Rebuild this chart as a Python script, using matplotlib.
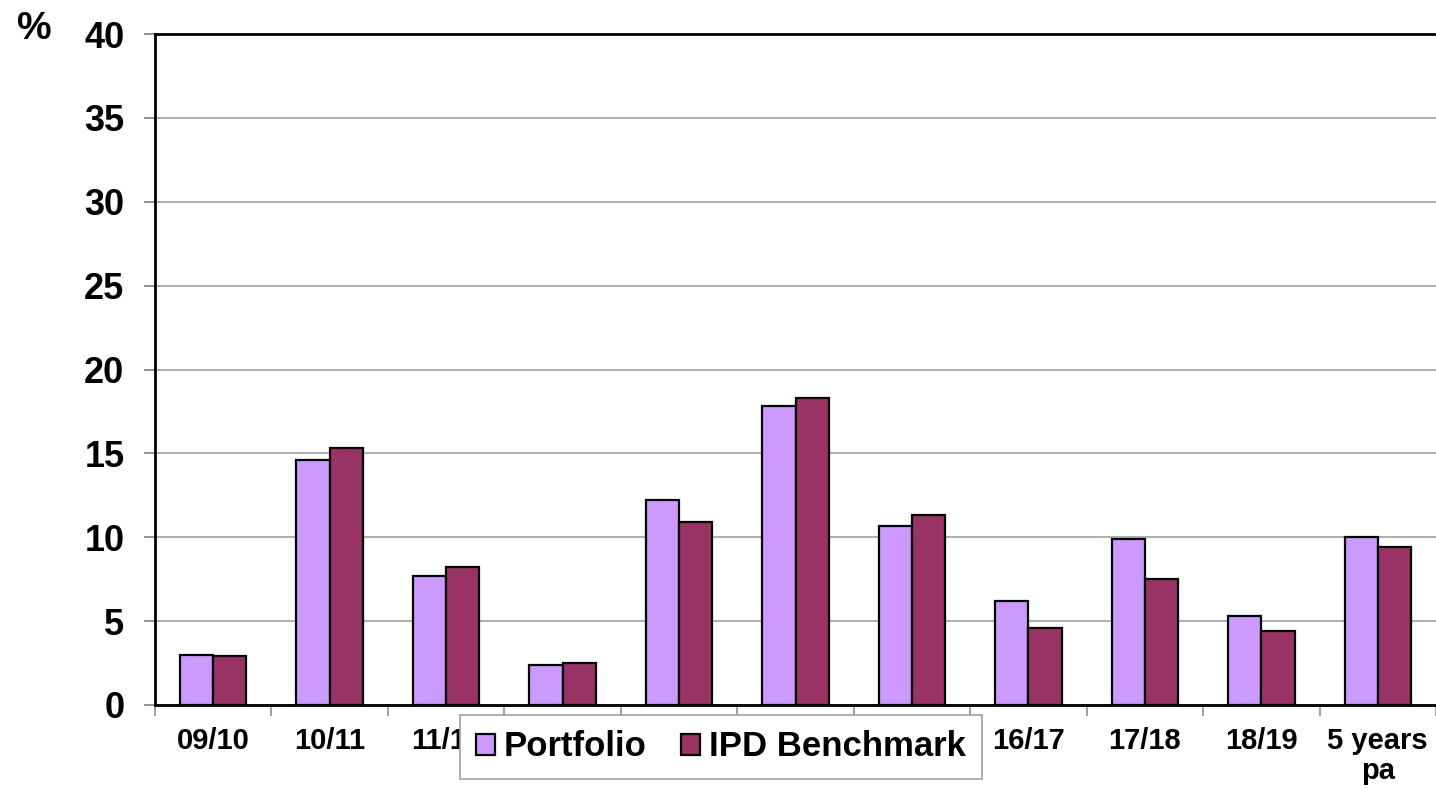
import numpy as np
import matplotlib
matplotlib.use("Agg")
import matplotlib.pyplot as plt

plt.rcParams['font.family'] = ['Liberation Sans', 'DejaVu Sans']
plt.rcParams['font.weight'] = 'bold'

# values
years = ['09/10', '10/11', '11/12', '12/13', '13/14', '14/15',
         '15/16', '16/17', '17/18', '18/19', '5 years\npa']
portfolio = [3.0, 14.6, 7.7, 2.4, 12.2, 17.8, 10.7, 6.2, 9.9, 5.3, 10.0]
benchmark = [2.9, 15.3, 8.2, 2.5, 10.9, 18.3, 11.3, 4.6, 7.5, 4.4, 9.4]

fig = plt.figure(figsize=(14.36, 7.88), dpi=100)
ax = fig.add_axes([155/1436, 83/788, 1 - 155/1436, (705-34)/788])

x = np.arange(len(years))
w = 0.285
ax.bar(x - w/2, portfolio, w, color='#CC99FF', edgecolor='black', linewidth=1.6,
       label='Portfolio', zorder=3)
ax.bar(x + w/2, benchmark, w, color='#993366', edgecolor='black', linewidth=1.6,
       label='IPD Benchmark', zorder=3)

ax.set_xlim(-0.5, len(years) - 0.5)
ax.set_ylim(0, 40)
ax.set_yticks(range(0, 41, 5))
ax.yaxis.grid(True, color='#a0a0a0', linewidth=1.2, zorder=0)
ax.tick_params(axis='y', length=8, width=1.2, color='#808080', pad=14, labelsize=26)

# category boundaries as ticks, labels at centres
ax.set_xticks(np.arange(-0.5, len(years), 1.0))
ax.set_xticklabels([])
ax.tick_params(axis='x', which='major', length=8, width=1.2, color='#909090')
ax.set_xticks(x, minor=True)
ax.set_xticklabels(years, minor=True, fontsize=21, fontweight='bold', linespacing=1.1)
ax.tick_params(axis='x', which='minor', length=0, pad=16)

for s in ['left', 'bottom', 'top']:
    ax.spines[s].set_color('black')
    ax.spines[s].set_linewidth(2)
ax.spines['right'].set_visible(False)

fig.text(17/1436, 1 - 29/788, '%', fontsize=28, fontweight='bold', va='center')

# legend sits over the middle tick labels, as in the original
leg = ax.legend(loc='center', bbox_to_anchor=(721/1436, 41/788),
                bbox_transform=fig.transFigure, ncol=2, fontsize=25,
                frameon=True, fancybox=False, edgecolor='#a0a0a0', framealpha=1,
                handlelength=0.55, handleheight=0.55, handletextpad=0.25,
                columnspacing=1.0, borderpad=0.45, borderaxespad=0)
leg.get_frame().set_linewidth(1.2)
leg.set_zorder(10)

fig.savefig('out.png', dpi=100)
